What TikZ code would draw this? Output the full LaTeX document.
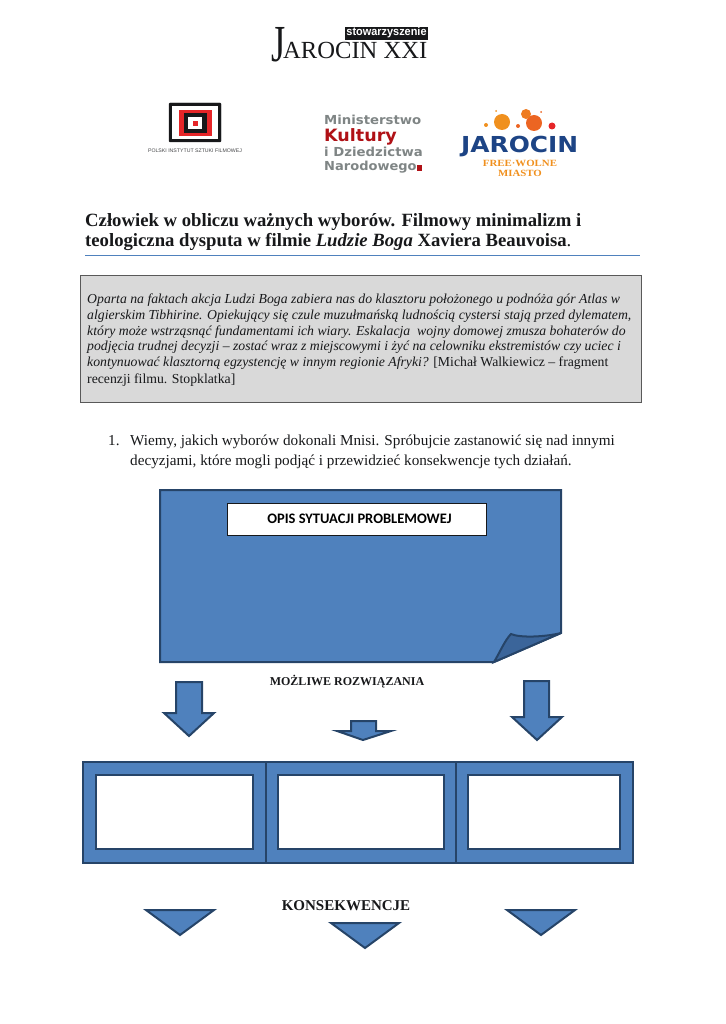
\documentclass[tikz,border=0pt]{standalone}
\usepackage{fontspec}
\setmainfont{Liberation Serif}
\newfontfamily\calibrifont{Carlito}
\newfontfamily\logofont{Liberation Sans}
\newfontfamily\widefont{DejaVu Sans}
\usetikzlibrary{positioning}
\definecolor{wsblue}{HTML}{4F81BD}
\definecolor{wsline}{HTML}{264468}
\definecolor{wsfold}{HTML}{3B659A}
\definecolor{wsgrayfill}{HTML}{D9D9D9}
\definecolor{wsgrayline}{HTML}{595959}
\definecolor{wsrule}{HTML}{4F81BD}
\definecolor{wsink}{HTML}{17181A}
\definecolor{wsred}{HTML}{E52528}
\definecolor{wsmuted}{HTML}{7F8585}
\definecolor{wsdarkred}{HTML}{B01116}
\definecolor{wsnavy}{HTML}{1D4485}
\definecolor{wsorange}{HTML}{F0901E}
\tikzset{
  wsshape/.style={draw=wsline, fill=wsblue, line width=2pt, line join=miter},
  wsinner/.style={draw=wsline, fill=white, line width=2pt},
  wstext/.style={anchor=base west, inner sep=0pt, text=wsink},
  wslogo/.style={anchor=base west, inner sep=0pt},
}

\begin{document}
\begin{tikzpicture}[x=1pt, y=-1pt]
\useasboundingbox (0, 0) rectangle (725, 1024);

% Logos.
\fill[wsink] (345, 27) rectangle (428, 40);
\node[inner sep=0pt, text=white, xscale=0.95, font=\logofont\bfseries\fontsize{11.5}{11.5}\selectfont]
  (stow) at (386.5, 33) {stowarzyszenie};
\node[wstext, xscale=0.7, font=\fontsize{52}{52}\selectfont] (jbig) at (271, 62) {J};
\node[wstext, font=\fontsize{24.6}{24.6}\selectfont] (jrest) at (283, 59) {AROCIN XXI};

\draw[fill=wsink, draw=wsink, rounded corners=1pt] (169, 103) rectangle (221, 142);
\fill[white] (172, 106) rectangle (218, 139);
\fill[wsred] (179, 110) rectangle (212, 136);
\fill[wsink] (184, 113) rectangle (207, 133);
\fill[white] (188, 117) rectangle (202, 129);
\fill[wsred] (193, 121) rectangle (198, 126);
\node[inner sep=0pt, text=wsink!80, font=\logofont\fontsize{5.2}{5.2}\selectfont]
  (pisf) at (195, 151) {POLSKI INSTYTUT SZTUKI FILMOWEJ};

\node[wslogo, text=wsmuted, xscale=1.07, font=\widefont\bfseries\fontsize{12.4}{12.4}\selectfont]
  (min) at (324, 124.5) {Ministerstwo};
\node[wslogo, text=wsdarkred, xscale=1.03, font=\widefont\bfseries\fontsize{17}{17}\selectfont]
  (kult) at (324, 142) {Kultury};
\node[wslogo, text=wsmuted, xscale=1.07, font=\widefont\bfseries\fontsize{12.4}{12.4}\selectfont]
  (dzie) at (324, 156.5) {i Dziedzictwa};
\node[wslogo, text=wsmuted, xscale=1.05, font=\widefont\bfseries\fontsize{12.4}{12.4}\selectfont]
  (naro) at (324, 170.5) {Narodowego};
\fill[wsdarkred] (417, 165) rectangle (422, 171);

\fill[wsorange] (502, 122) circle (8);
\fill[wsorange!60!wsred] (534, 123) circle (8);
\fill[wsorange!80!wsred] (526, 114) circle (5);
\fill[wsred] (552, 126) circle (3.5);
\fill[wsorange] (486, 125) circle (2);
\fill[wsorange!60!wsred] (518, 126) circle (2);
\fill[wsorange] (496, 111) circle (1);
\fill[wsorange!60!wsred] (541, 112) circle (1);
\node[wslogo, text=wsnavy, xscale=1.13, font=\widefont\bfseries\fontsize{22}{22}\selectfont]
  (jar) at (461, 153) {JAROCIN};
\node[inner sep=0pt, text=wsorange, xscale=1.14, font=\bfseries\fontsize{9.5}{9.5}\selectfont]
  (free) at (520, 163) {FREE·WOLNE};
\node[inner sep=0pt, text=wsorange, xscale=1.14, font=\bfseries\fontsize{9.5}{9.5}\selectfont]
  (miasto) at (520, 173) {MIASTO};

% Title.
\node[wstext, font=\bfseries\fontsize{18.7}{18.7}\selectfont] (title1) at (85, 226)
  {Człowiek w obliczu ważnych wyborów. Filmowy minimalizm i};
\node[wstext, font=\bfseries\fontsize{18.7}{18.7}\selectfont] (title2) at (85, 246)
  {teologiczna dysputa w filmie \textit{Ludzie Boga} Xaviera Beauvoisa\textmd{.}};
\draw[draw=wsrule, line width=1.2pt] (85, 255.5) -- (640, 255.5);

% Quote box.
\draw[draw=wsgrayline, fill=wsgrayfill, line width=1pt] (80, 275) rectangle (641, 402);
\node[wstext, font=\itshape\fontsize{13.75}{13.75}\selectfont] (quote1) at (87, 303)
  {Oparta na faktach akcja Ludzi Boga zabiera nas do klasztoru położonego u podnóża gór Atlas w};
\node[wstext, font=\itshape\fontsize{13.75}{13.75}\selectfont] (quote2) at (87, 319)
  {algierskim Tibhirine. Opiekujący się czule muzułmańską ludnością cystersi stają przed dylematem,};
\node[wstext, font=\itshape\fontsize{13.75}{13.75}\selectfont] (quote3) at (87, 335)
  {który może wstrząsnąć fundamentami ich wiary. Eskalacja\ \ wojny domowej zmusza bohaterów do};
\node[wstext, font=\itshape\fontsize{13.75}{13.75}\selectfont] (quote4) at (87, 350)
  {podjęcia trudnej decyzji – zostać wraz z miejscowymi i żyć na celowniku ekstremistów czy uciec i};
\node[wstext, font=\fontsize{13.75}{13.75}\selectfont] (quote5) at (87, 366)
  {\textit{kontynuować klasztorną egzystencję w innym regionie Afryki?} [Michał Walkiewicz – fragment};
\node[wstext, font=\fontsize{13.75}{13.75}\selectfont] (quote6) at (87, 383)
  {recenzji filmu. Stopklatka]};

% Task.
\node[wstext, font=\fontsize{15.2}{15.2}\selectfont] (num) at (108, 445) {1.};
\node[wstext, font=\fontsize{15.2}{15.2}\selectfont] (task1) at (130, 445)
  {Wiemy, jakich wyborów dokonali Mnisi. Spróbujcie zastanowić się nad innymi};
\node[wstext, font=\fontsize{15.2}{15.2}\selectfont] (task2) at (130, 465)
  {decyzjami, które mogli podjąć i przewidzieć konsekwencje tych działań.};

% Folded sheet.
\draw[wsshape] (160, 490) -- (561, 490) -- (561, 633) -- (494, 662) -- (160, 662) -- cycle;
\draw[wsshape, fill=wsfold] (494, 662) .. controls (500, 652) and (505, 640) .. (511, 634)
  .. controls (520, 638) and (545, 637) .. (561, 633) -- cycle;
\node[draw=wsink, fill=white, line width=0.8pt, minimum width=259pt, minimum height=32pt,
  inner sep=0pt, font=\calibrifont\bfseries\fontsize{14.5}{14.5}\selectfont]
  (opis) at (356.5, 519) {\hspace{6pt}OPIS SYTUACJI PROBLEMOWEJ};

\node[inner sep=0pt, text=wsink, font=\bfseries\fontsize{12}{12}\selectfont]
  (rozw) at (347, 682) {MOŻLIWE ROZWIĄZANIA};

% Arrows: shaft left, shaft right, top, shoulder, head left, head right, tip x, tip y.
\foreach \sl/\sr/\st/\ss/\hl/\hr/\tx/\ty in {
    176/202/682/713/164/214/189/736,
    351/376/721/731/337/391/363/740,
    524/549/681/717/512/562/537/740} {
  \draw[wsshape] (\sl, \st) -- (\sr, \st) -- (\sr, \ss) -- (\hr, \ss) -- (\tx, \ty)
    -- (\hl, \ss) -- (\sl, \ss) -- cycle;
}

% Frames.
\draw[wsshape] (83, 762) rectangle (265.5, 862.5);
\draw[wsshape] (265.5, 762) rectangle (456, 862.5);
\draw[wsshape] (456, 762) rectangle (633, 862.5);
\draw[wsinner] (96, 775) rectangle (253, 849);
\draw[wsinner] (278, 775) rectangle (444, 849);
\draw[wsinner] (468, 775) rectangle (620, 849);

\node[inner sep=0pt, text=wsink, font=\bfseries\fontsize{15}{15}\selectfont]
  (kons) at (346, 906) {KONSEKWENCJE};

% Triangles.
\foreach \tx/\ty in {180/910, 365/923, 541/910} {
  \draw[wsshape] (\tx - 34, \ty) -- (\tx + 34, \ty) -- (\tx, \ty + 25) -- cycle;
}

\end{tikzpicture}
\end{document}
